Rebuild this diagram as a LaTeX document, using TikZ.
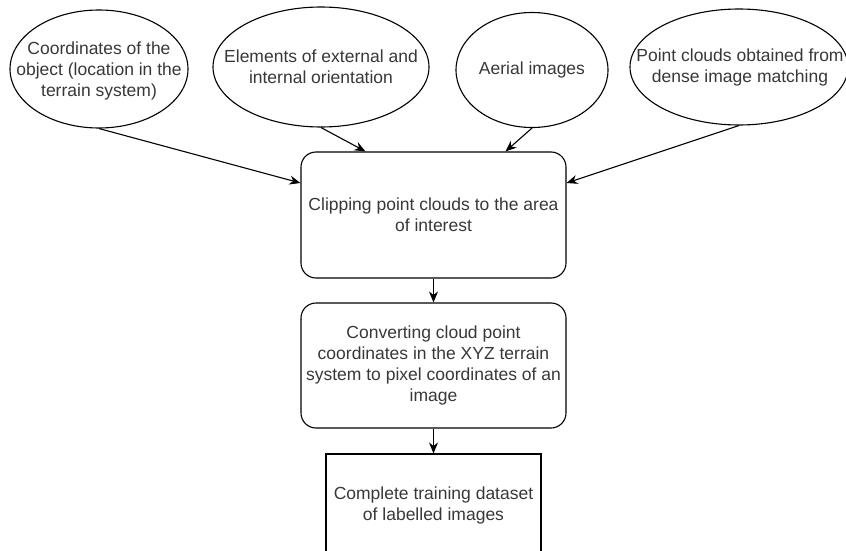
\documentclass[tikz,border=0pt]{standalone}
\usepackage{fontspec}
\setmainfont{Liberation Sans}
\usetikzlibrary{shapes.geometric,arrows.meta,calc}

\tikzset{
  source/.style={ellipse, draw=black, line width=1.1pt, inner sep=0pt, fill=white},
  caption/.style={align=center, text=black!78, inner sep=0pt,
    font=\fontsize{17.5}{21}\selectfont},
  stepbox/.style={rectangle, rounded corners=15pt, draw=black, line width=1.1pt,
    minimum width=265pt, minimum height=126pt, align=center, text=black!78,
    inner sep=0pt, font=\fontsize{17.5}{21}\selectfont},
  resultbox/.style={rectangle, draw=black, line width=1.1pt,
    minimum width=215pt, minimum height=102pt, align=center, text=black!78,
    inner sep=0pt, font=\fontsize{17.5}{21}\selectfont},
  flow/.style={draw=black, line width=1.1pt, -{Stealth[length=11pt,width=9pt]}},
}

\begin{document}
\begin{tikzpicture}[x=1pt, y=-1pt]
  \useasboundingbox (0,0) rectangle (846,551);

  % input ellipses
  \node[source, minimum width=178pt, minimum height=118pt] (e1) at (99,69) {};
  \node[caption] (t1) at (99,71) {Coordinates of the\\object (location in the\\terrain system)};

  \node[source, minimum width=216pt, minimum height=120pt] (e2) at (321,67) {};
  \node[caption] (t2) at (321,67) {Elements of external and\\internal orientation};

  \node[source, minimum width=152pt, minimum height=115pt] (e3) at (532,70) {};
  \node[caption] (t3) at (532,70) {Aerial images};

  \node[source, minimum width=218pt, minimum height=116pt] (e4) at (739,67) {};
  \node[caption] (t4) at (740,67) {Point clouds obtained from\\dense image matching};

  % processing steps
  \node[stepbox] (b1) at (433.5,215) {Clipping point clouds to the area\\of interest};
  \node[stepbox, minimum height=125pt] (b2) at (433.5,365.5)
    {Converting cloud point\\coordinates in the XYZ terrain\\system to pixel coordinates of an\\image};
  \node[resultbox] (b3) at (433.5,505) {Complete training dataset\\of labelled images};

  % connectors
  \draw[flow] (e1.south) -- ($(b1.west)+(0,-32)$);
  \draw[flow] (e2.south) -- ($(b1.north)+(-68,0)$);
  \draw[flow] (e3.south) -- ($(b1.north)+(72,0)$);
  \draw[flow] (e4.south) -- ($(b1.east)+(0,-32)$);
  \draw[flow] (b1.south) -- (b2.north);
  \draw[flow] (b2.south) -- (b3.north);
\end{tikzpicture}
\end{document}
